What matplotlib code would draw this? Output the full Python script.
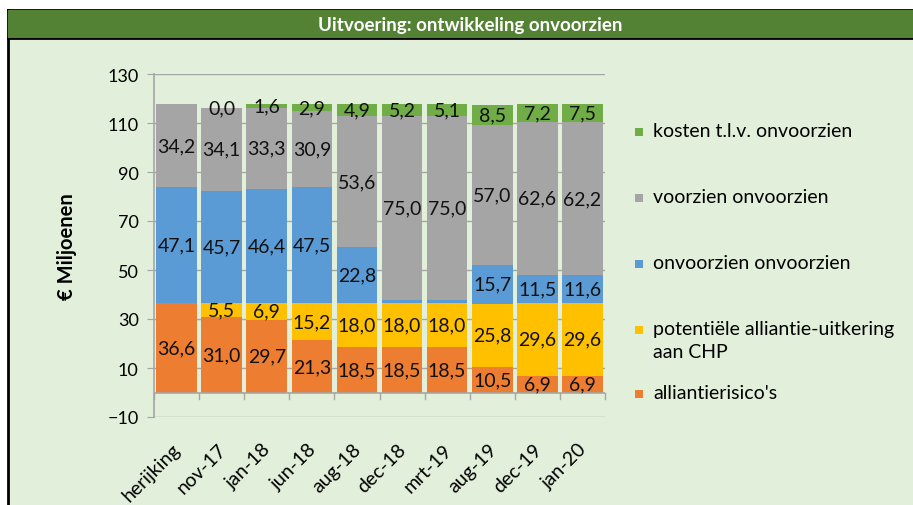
import matplotlib.pyplot as plt
import numpy as np
from matplotlib.patches import Rectangle
from matplotlib.lines import Line2D

categories = ['herijking', 'nov-17', 'jan-18', 'jun-18', 'aug-18',
              'dec-18', 'mrt-19', 'aug-19', 'dec-19', 'jan-20']

alliantierisico = [36.6, 31.0, 29.7, 21.3, 18.5, 18.5, 18.5, 10.5, 6.9, 6.9]
potentiele_uitkering = [0.0, 5.5, 6.9, 15.2, 18.0, 18.0, 18.0, 25.8, 29.6, 29.6]
onvoorzien_onvoorzien = [47.1, 45.7, 46.4, 47.5, 22.8, 1.2, 1.2, 15.7, 11.5, 11.6]
voorzien_onvoorzien = [34.2, 34.1, 33.3, 30.9, 53.6, 75.0, 75.0, 57.0, 62.6, 62.2]
kosten_onvoorzien = [0.0, 0.0, 1.6, 2.9, 4.9, 5.2, 5.1, 8.5, 7.2, 7.5]

# which segments get a value label (small / empty ones are left out)
show_labels = {
    'alliantierisico': [True] * 10,
    'potentiele': [False] + [True] * 9,
    'onvoorzien': [True] * 5 + [False, False] + [True] * 3,
    'voorzien': [True] * 10,
    'kosten': [False] + [True] * 9,
}

series = [
    ('alliantierisico', alliantierisico, '#ED7D31', "alliantierisico's"),
    ('potentiele', potentiele_uitkering, '#FFC000', 'potentiële alliantie-uitkering\naan CHP'),
    ('onvoorzien', onvoorzien_onvoorzien, '#5B9BD5', 'onvoorzien onvoorzien'),
    ('voorzien', voorzien_onvoorzien, '#A5A5A5', 'voorzien onvoorzien'),
    ('kosten', kosten_onvoorzien, '#70AD47', 'kosten t.l.v. onvoorzien'),
]

bg = '#E2EFDA'
font = 'Lato'
W, H = 913, 506

fig = plt.figure(figsize=(9.13, 5.06), dpi=100)
fig.patch.set_facecolor('white')

# background panel + title bar
fig.patches.append(Rectangle((8 / W, 0), 1, 1 - 11 / H, transform=fig.transFigure,
                             facecolor=bg, edgecolor='none', zorder=-2))
fig.patches.append(Rectangle((8 / W, 1 - 39 / H), 1, 28 / H, transform=fig.transFigure,
                             facecolor='#548235', edgecolor='none', zorder=-1))
for yy in [1 - 11 / H, 1 - 39 / H]:
    fig.lines.append(Line2D([8 / W, 1], [yy, yy], transform=fig.transFigure,
                            color='black', lw=2, zorder=-1))
fig.lines.append(Line2D([8 / W, 8 / W], [0, 1 - 11 / H], transform=fig.transFigure,
                        color='black', lw=2, zorder=-1))
fig.text(0.515, 1 - 25 / H, 'Uitvoering: ontwikkeling onvoorzien', ha='center', va='center',
         color='white', fontsize=13.5, fontweight='bold', family=font)

ax = fig.add_axes([154 / W, 1 - 418 / H, 451 / W, 343 / H])
ax.set_facecolor('none')
ax.set_zorder(5)

x = np.arange(len(categories))
bottom = np.zeros(len(categories))
for key, vals, color, label in series:
    vals = np.array(vals)
    ax.bar(x, vals, width=0.9, bottom=bottom, color=color, zorder=3, label=label)
    for i, v in enumerate(vals):
        if show_labels[key][i]:
            ax.text(x[i], bottom[i] + v / 2, f'{v:.1f}'.replace('.', ','), ha='center',
                    va='center', fontsize=14, family=font, color='#111111', zorder=5)
    bottom += vals

ax.set_xlim(-0.5, len(categories) - 0.5)
ax.set_ylim(-10, 130)
ax.set_yticks(np.arange(-10, 131, 20))
ax.yaxis.grid(True, color='#A6A6A6', lw=1, zorder=0)
ax.tick_params(axis='y', length=5, color='#A6A6A6', labelsize=13, pad=6)
for lbl in ax.get_yticklabels():
    lbl.set_family(font)

ax.set_xticks([])
for s in ['top', 'right', 'bottom']:
    ax.spines[s].set_visible(False)
ax.spines['left'].set_color('#A6A6A6')
ax.spines['left'].set_linewidth(1.2)

# category axis at zero
ax.axhline(0, color='#A6A6A6', lw=1.2, zorder=4)
for i in range(len(categories) + 1):
    ax.plot([i - 0.5, i - 0.5], [0, -2.5], color='#A6A6A6', lw=1, zorder=4, clip_on=False)
for i, c in enumerate(categories):
    ax.text(x[i] - 0.1, -19.5, c, rotation=45, ha='right', va='top', fontsize=14,
            family=font, rotation_mode='anchor')

ax.set_ylabel('€ Miljoenen', fontsize=14.5, fontweight='bold', family=font, labelpad=22)

# legend, drawn by hand to get Excel's even spacing
leg_y = [395, 331, 265, 199, 133]   # px from top, same order as series
for (key, vals, color, label), yy in zip(series, leg_y):
    fig.patches.append(Rectangle((635 / W, 1 - (yy + 4) / H), 8 / W, 8 / H,
                                 transform=fig.transFigure, facecolor=color,
                                 edgecolor='none', zorder=6))
    fig.text(653 / W, 1 - (yy - 10) / H, label, ha='left', va='top', fontsize=14,
             family=font, linespacing=1.45)

fig.savefig('out.png', dpi=100, facecolor=fig.get_facecolor())
